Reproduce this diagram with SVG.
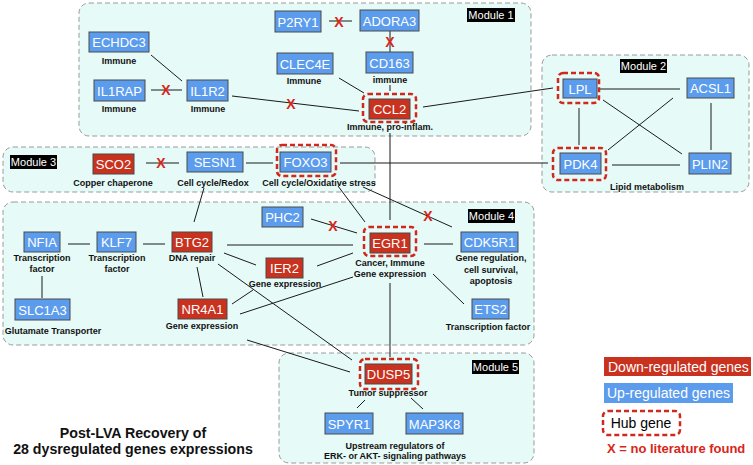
<svg xmlns="http://www.w3.org/2000/svg" width="753" height="465" viewBox="0 0 753 465">
<defs>
<style>
.mod{fill:#e6faf7;stroke:#9a9a9a;stroke-width:1;stroke-dasharray:5,3}
.ml rect{fill:#000}
.ml text{fill:#fff;font:11px "Liberation Sans",Arial,sans-serif;text-anchor:middle}
.up rect.n{fill:#5c9ced;stroke:#4a4a4a;stroke-width:1}
.dn rect.n{fill:#c8321f;stroke:#4a4a4a;stroke-width:1}
.up text.t,.dn text.t{fill:#fff;font:13px "Liberation Sans",Arial,sans-serif;text-anchor:middle}
.hub{fill:none;stroke:#d0281c;stroke-width:2.5;stroke-dasharray:5,3}
.lab{fill:#111;font:bold 9px "Liberation Sans",Arial,sans-serif;text-anchor:middle}
#edges line{stroke:#1a1a1a;stroke-width:1}
.x{fill:#d8261a;font:bold 14px "Liberation Sans",Arial,sans-serif;text-anchor:middle}
</style>
</defs>
<rect width="753" height="465" fill="#fff"/>
<!-- modules -->
<rect class="mod" x="79" y="3" width="452" height="133" rx="10"/>
<rect class="mod" x="542" y="55" width="207" height="137" rx="10"/>
<rect class="mod" x="3" y="147" width="372" height="45" rx="10"/>
<rect class="mod" x="3" y="202" width="531" height="143" rx="10"/>
<rect class="mod" x="279" y="353" width="255" height="110" rx="10"/>
<g class="ml"><rect x="467" y="8" width="48" height="14"/><text x="491" y="19">Module 1</text></g>
<g class="ml"><rect x="620" y="59" width="47" height="14"/><text x="643.5" y="70">Module 2</text></g>
<g class="ml"><rect x="10" y="155" width="47" height="14"/><text x="33.5" y="166">Module 3</text></g>
<g class="ml"><rect x="468" y="209" width="47" height="14"/><text x="491.5" y="220">Module 4</text></g>
<g class="ml"><rect x="472" y="360" width="47" height="14"/><text x="495.5" y="371">Module 5</text></g>
<!-- connectors -->
<g id="edges">
<line x1="329" y1="21" x2="352" y2="21"/>
<line x1="390" y1="31" x2="390" y2="52"/>
<line x1="151" y1="55" x2="182" y2="81"/>
<line x1="151" y1="90" x2="182" y2="90"/>
<line x1="232" y1="96" x2="359" y2="111"/>
<line x1="339" y1="78" x2="364" y2="93"/>
<line x1="390" y1="85" x2="390" y2="91"/>
<line x1="423" y1="107" x2="553" y2="88"/>
<line x1="390" y1="133" x2="390" y2="220"/>
<line x1="600" y1="89" x2="680" y2="89"/>
<line x1="579" y1="108" x2="579" y2="145"/>
<line x1="603" y1="100" x2="682" y2="154"/>
<line x1="673" y1="98" x2="608" y2="150"/>
<line x1="711" y1="103" x2="711" y2="150"/>
<line x1="612" y1="165" x2="680" y2="165"/>
<line x1="340" y1="163" x2="548" y2="163"/>
<line x1="146" y1="163" x2="179" y2="163"/>
<line x1="246" y1="163" x2="273" y2="163"/>
<line x1="68" y1="244" x2="90" y2="244"/>
<line x1="143" y1="244" x2="165" y2="244"/>
<line x1="42" y1="276" x2="42" y2="298"/>
<line x1="204" y1="188" x2="194" y2="222"/>
<line x1="227" y1="245" x2="353" y2="245"/>
<line x1="224" y1="253" x2="256" y2="265"/>
<line x1="218" y1="264" x2="352" y2="360"/>
<line x1="247" y1="340" x2="350" y2="372"/>
<line x1="197" y1="267" x2="203" y2="297"/>
<line x1="232" y1="304" x2="253" y2="290"/>
<line x1="240" y1="314" x2="353" y2="277"/>
<line x1="317" y1="266" x2="353" y2="253"/>
<line x1="311" y1="219" x2="357" y2="233"/>
<line x1="338" y1="186" x2="365" y2="222"/>
<line x1="363" y1="187" x2="452" y2="227"/>
<line x1="424" y1="244" x2="453" y2="244"/>
<line x1="433" y1="274" x2="464" y2="304"/>
<line x1="390" y1="283" x2="390" y2="357"/>
<line x1="365" y1="400" x2="357" y2="408"/>
<line x1="411" y1="398" x2="423" y2="409"/>
<text class="x" x="339" y="27">X</text>
<text class="x" x="390" y="47">X</text>
<text class="x" x="166" y="95">X</text>
<text class="x" x="291" y="109">X</text>
<text class="x" x="161" y="168">X</text>
<text class="x" x="333" y="231">X</text>
<text class="x" x="428" y="221">X</text>
</g>
<!-- Module 1 nodes -->
<g id="ECHDC3" class="up"><rect class="n" x="89" y="32" width="60" height="20"/><text class="t" x="119" y="47">ECHDC3</text><text class="lab" x="119" y="64">Immune</text></g>
<g id="IL1RAP" class="up"><rect class="n" x="94" y="80" width="51" height="21"/><text class="t" x="119.5" y="95.5">IL1RAP</text><text class="lab" x="119" y="112">Immune</text></g>
<g id="IL1R2" class="up"><rect class="n" x="187" y="80" width="41" height="21"/><text class="t" x="207.5" y="95.5">IL1R2</text><text class="lab" x="208" y="112">Immune</text></g>
<g id="P2RY1" class="up"><rect class="n" x="275" y="11" width="46" height="21"/><text class="t" x="298" y="26.5">P2RY1</text></g>
<g id="ADORA3" class="up"><rect class="n" x="360" y="10" width="59" height="21"/><text class="t" x="389.5" y="25.5">ADORA3</text></g>
<g id="CLEC4E" class="up"><rect class="n" x="277" y="53" width="56" height="21"/><text class="t" x="305" y="68.5">CLEC4E</text><text class="lab" x="304" y="84">Immune</text></g>
<g id="CD163" class="up"><rect class="n" x="366" y="52" width="47" height="21"/><text class="t" x="389.5" y="67.5">CD163</text><text class="lab" x="390" y="83">immune</text></g>
<g id="CCL2" class="dn"><rect class="hub" x="363" y="94" width="53" height="28" rx="5"/><rect class="n" x="369" y="99" width="41" height="20"/><text class="t" x="389.5" y="114">CCL2</text><text class="lab" x="390" y="130">Immune, pro-inflam.</text></g>
<!-- Module 2 nodes -->
<g id="LPL" class="up"><rect class="hub" x="558" y="73" width="41" height="30" rx="5"/><rect class="n" x="563" y="79" width="34" height="19"/><text class="t" x="580" y="93.5">LPL</text></g>
<g id="ACSL1" class="up"><rect class="n" x="687" y="78" width="47" height="20"/><text class="t" x="710.5" y="93">ACSL1</text></g>
<g id="PDK4" class="up"><rect class="hub" x="553" y="148" width="53" height="32" rx="5"/><rect class="n" x="560" y="153" width="41" height="21"/><text class="t" x="580.5" y="168.5">PDK4</text></g>
<g id="PLIN2" class="up"><rect class="n" x="689" y="153" width="42" height="21"/><text class="t" x="710" y="168.5">PLIN2</text></g>
<text class="lab" x="647" y="190">Lipid metabolism</text>
<!-- Module 3 nodes -->
<g id="SCO2" class="dn"><rect class="n" x="93" y="154" width="41" height="20"/><text class="t" x="113.5" y="169">SCO2</text><text class="lab" x="113" y="186">Copper chaperone</text></g>
<g id="SESN1" class="up"><rect class="n" x="187" y="152" width="56" height="20"/><text class="t" x="215" y="167">SESN1</text><text class="lab" x="213" y="186">Cell cycle/Redox</text></g>
<g id="FOXO3" class="up"><rect class="hub" x="277" y="145" width="59" height="31" rx="5"/><rect class="n" x="280" y="152" width="51" height="20"/><text class="t" x="305.5" y="167">FOXO3</text><text class="lab" x="319" y="186">Cell cycle/Oxidative stress</text></g>
<!-- Module 4 nodes -->
<g id="NFIA" class="up"><rect class="n" x="24" y="232" width="36" height="20"/><text class="t" x="42" y="247">NFIA</text><text class="lab" x="42" y="261">Transcription</text><text class="lab" x="42" y="272">factor</text></g>
<g id="KLF7" class="up"><rect class="n" x="97" y="232" width="39" height="20"/><text class="t" x="116.5" y="247">KLF7</text><text class="lab" x="117" y="261">Transcription</text><text class="lab" x="117" y="272">factor</text></g>
<g id="BTG2" class="dn"><rect class="n" x="172" y="232" width="40" height="20"/><text class="t" x="192" y="247">BTG2</text><text class="lab" x="192" y="261">DNA repair</text></g>
<g id="SLC1A3" class="up"><rect class="n" x="15" y="299" width="55" height="21"/><text class="t" x="42.5" y="314.5">SLC1A3</text><text class="lab" x="53" y="334">Glutamate Transporter</text></g>
<g id="NR4A1" class="dn"><rect class="n" x="178" y="299" width="49" height="20"/><text class="t" x="202.5" y="314">NR4A1</text><text class="lab" x="202" y="329">Gene expression</text></g>
<g id="PHC2" class="up"><rect class="n" x="262" y="207" width="41" height="20"/><text class="t" x="282.5" y="222">PHC2</text></g>
<g id="IER2" class="dn"><rect class="n" x="266" y="258" width="37" height="20"/><text class="t" x="284.5" y="273">IER2</text><text class="lab" x="285" y="287">Gene expression</text></g>
<g id="EGR1" class="dn"><rect class="hub" x="364" y="227" width="52" height="29" rx="5"/><rect class="n" x="370" y="233" width="40" height="20"/><text class="t" x="390" y="248">EGR1</text><text class="lab" x="390" y="266">Cancer, Immune</text><text class="lab" x="390" y="277">Gene expression</text></g>
<g id="CDK5R1" class="up"><rect class="n" x="461" y="232" width="57" height="20"/><text class="t" x="489.5" y="247">CDK5R1</text><text class="lab" x="491" y="261">Gene regulation,</text><text class="lab" x="491" y="273">cell survival,</text><text class="lab" x="491" y="284">apoptosis</text></g>
<g id="ETS2" class="up"><rect class="n" x="472" y="299" width="37" height="20"/><text class="t" x="490.5" y="314">ETS2</text><text class="lab" x="488" y="330">Transcription factor</text></g>
<!-- Module 5 nodes -->
<g id="DUSP5" class="dn"><rect class="hub" x="360" y="359" width="58" height="30" rx="5"/><rect class="n" x="365" y="364" width="47" height="20"/><text class="t" x="388.5" y="379">DUSP5</text><text class="lab" x="388" y="396">Tumor suppressor</text></g>
<g id="SPYR1" class="up"><rect class="n" x="325" y="413" width="48" height="21"/><text class="t" x="349" y="428.5">SPYR1</text></g>
<g id="MAP3K8" class="up"><rect class="n" x="406" y="413" width="57" height="21"/><text class="t" x="434.5" y="428.5">MAP3K8</text></g>
<text class="lab" x="395" y="449">Upstream regulators of</text>
<text class="lab" x="395" y="459">ERK- or AKT- signaling pathways</text>
<!-- legend -->
<g id="legend">
<rect x="604" y="357" width="147" height="19" fill="#c8321f"/>
<text x="608" y="372" fill="#fff" font-family="Liberation Sans, Arial, sans-serif" font-size="14">Down-regulated genes</text>
<rect x="604" y="383" width="129" height="20" fill="#5c9ced"/>
<text x="607" y="398" fill="#fff" font-family="Liberation Sans, Arial, sans-serif" font-size="14">Up-regulated genes</text>
<rect class="hub" x="603" y="411" width="77" height="24" rx="5"/>
<text x="641" y="428" fill="#000" font-family="Liberation Sans, Arial, sans-serif" font-size="14" text-anchor="middle">Hub gene</text>
<text x="607" y="453" fill="#d8261a" font-family="Liberation Sans, Arial, sans-serif" font-size="13" font-weight="bold">X = no literature found</text>
</g>
<g id="title" font-family="Liberation Sans, Arial, sans-serif" font-size="14.2" font-weight="bold" text-anchor="middle" fill="#111">
<text x="133" y="438">Post-LVA Recovery of</text>
<text x="133" y="454">28 dysregulated genes expressions</text>
</g>
</svg>
